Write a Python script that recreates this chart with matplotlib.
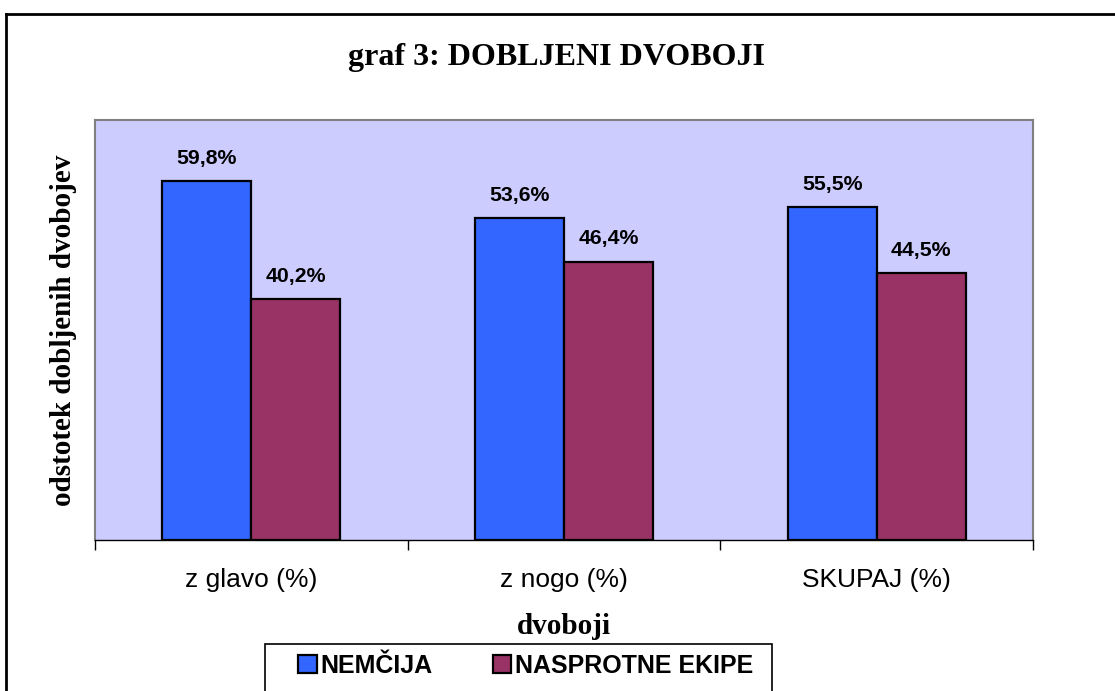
import matplotlib
matplotlib.use('Agg')
import matplotlib.pyplot as plt
from matplotlib.patches import Rectangle
import numpy as np

# data
categories = ['z glavo (%)', 'z nogo (%)', 'SKUPAJ (%)']
nemcija = [59.8, 53.6, 55.5]
nasprotne = [40.2, 46.4, 44.5]
series_names = ['NEMČIJA', 'NASPROTNE EKIPE']

fig = plt.figure(figsize=(11.15, 6.91), dpi=100)
ax = fig.add_axes([95/1115, 1 - 540/691, (1033-95)/1115, (540-120)/691])

x = np.arange(len(categories))
w = 0.285
b1 = ax.bar(x - w/2, nemcija, w, color='#3366FF', edgecolor='black', linewidth=1.6, label=series_names[0])
b2 = ax.bar(x + w/2, nasprotne, w, color='#993366', edgecolor='black', linewidth=1.6, label=series_names[1])

for bars, vals in ((b1, nemcija), (b2, nasprotne)):
    for r, v in zip(bars, vals):
        ax.text(r.get_x() + r.get_width()/2, v + 2.2, f'{v:.1f}%'.replace('.', ','),
                ha='center', va='bottom', fontsize=15.3, fontweight='bold', family='Liberation Sans')

ax.set_facecolor('#CCCCFF')
ax.set_xlim(-0.5, 2.5)
ax.set_ylim(0, 70)
ax.set_yticks([])
ax.set_xticks([-0.5, 0.5, 1.5, 2.5], minor=False)
ax.set_xticklabels([])
ax.set_xticks(x, minor=True)
ax.set_xticklabels(categories, minor=True, fontsize=19, family='Liberation Sans')
ax.tick_params(axis='x', which='major', length=7, width=1, color='black')
ax.tick_params(axis='x', which='minor', length=0, pad=20)
for s in ['left', 'right', 'top']:
    ax.spines[s].set_color('#808080')
    ax.spines[s].set_linewidth(1.5)
ax.spines['bottom'].set_color('black')
ax.spines['bottom'].set_linewidth(1)

ax.set_xlabel('dvoboji', fontsize=21, fontweight='bold', family='Liberation Serif', labelpad=15)
ax.set_ylabel('odstotek dobljenih dvobojev', fontsize=21, fontweight='bold', family='Liberation Serif', labelpad=13)

fig.text(557/1115, 1 - 57/691, 'graf 3: DOBLJENI DVOBOJI', ha='center', va='center',
         fontsize=23, fontweight='bold', family='Liberation Serif')

# legend box drawn separately, it runs past the bottom edge
fig.add_artist(Rectangle((265/1115, -0.05), (772-265)/1115, 0.05 + 1 - 644/691,
                         transform=fig.transFigure, facecolor='white', edgecolor='black', lw=1.2))
leg = fig.legend(handles=[b1, b2], loc='center left', bbox_to_anchor=(293/1115, 1 - 666/691), ncol=2,
                 frameon=False, handlelength=0.75, handleheight=0.75,
                 columnspacing=2.4, handletextpad=0.15, borderpad=0.2, borderaxespad=0,
                 prop={'family': 'Liberation Sans', 'weight': 'bold', 'size': 18})

# outer frame (top and left only)
fig.add_artist(plt.Line2D([6/1115, 1], [1 - 14/691, 1 - 14/691], color='black', lw=2))
fig.add_artist(plt.Line2D([6/1115, 6/1115], [0, 1 - 14/691], color='black', lw=2))

fig.savefig('out.png', dpi=100)
